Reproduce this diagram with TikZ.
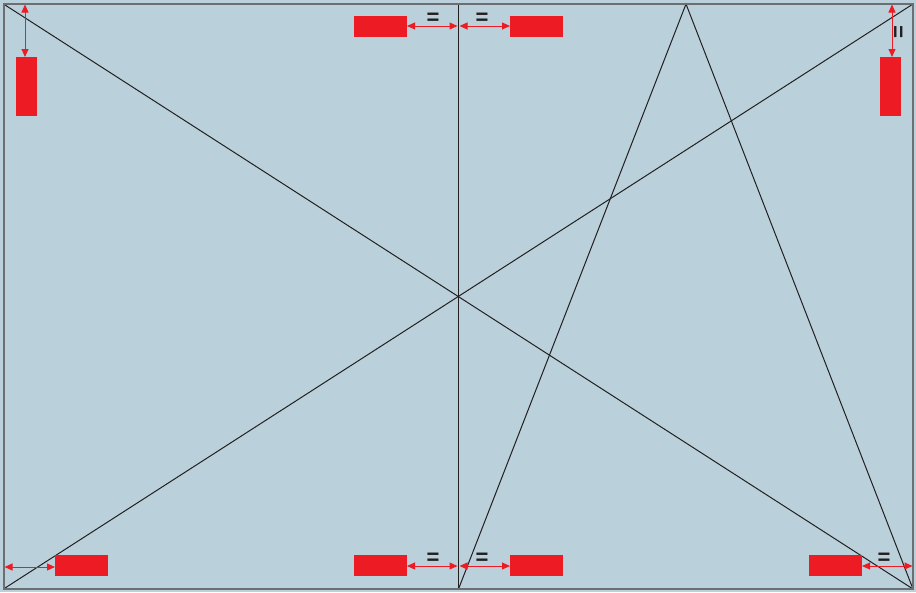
\documentclass[tikz,border=0pt]{standalone}
\usepackage{fontspec}
\setmainfont{Liberation Sans}
\usetikzlibrary{arrows.meta}
\definecolor{bgblue}{HTML}{BAD1DC}
\definecolor{redbox}{HTML}{ED1C24}
\definecolor{frame}{HTML}{6D6E71}
\definecolor{ink}{HTML}{231F20}
\begin{document}
\begin{tikzpicture}[x=1pt,y=-1pt,
  redrect/.style={fill=redbox,draw=none},
  geo/.style={draw=ink,line width=1pt},
  dim/.style={draw=redbox,line width=1pt,{Triangle[length=8pt,width=7pt]}-{Triangle[length=8pt,width=7pt]}},
  eq/.style={text=ink,font=\bfseries\fontsize{22}{22}\selectfont,inner sep=0pt}]
\useasboundingbox (0,0) rectangle (916,592);
\fill[bgblue] (0,0) rectangle (916,592);
% frame corners
\coordinate (TL) at (3.5,4);
\coordinate (TR) at (913,4);
\coordinate (BL) at (3.5,589);
\coordinate (BR) at (913,589);
\coordinate (MT) at (458.5,4);
\coordinate (MB) at (458.5,589);
\coordinate (AP) at (686,4);
% geometry lines
\draw[geo] (TL) -- (BR);
\draw[geo] (BL) -- (TR);
\draw[geo] (MB) -- (AP) -- (BR);
\draw[draw=ink,line width=1.8pt] (MT) -- (MB);
% frame
\draw[frame,line width=2pt] (TL) rectangle (BR);
% red boxes
\path[redrect] (16,57) rectangle (37,116);
\path[redrect] (880,57) rectangle (901,116);
\path[redrect] (354,16) rectangle (407,37);
\path[redrect] (510,16) rectangle (563,37);
\path[redrect] (55,555) rectangle (108,576);
\path[redrect] (354,555) rectangle (407,576);
\path[redrect] (510,555) rectangle (563,576);
\path[redrect] (809,555) rectangle (862,576);
% named anchors for dimension arrows
\coordinate (a1s) at (25,4.5);   \coordinate (a1e) at (25,57);
\coordinate (a2s) at (892,4.5);  \coordinate (a2e) at (892,57);
\coordinate (a3s) at (407,26);   \coordinate (a3e) at (457.5,26);
\coordinate (a4s) at (459.5,26); \coordinate (a4e) at (510,26);
\coordinate (a5s) at (4.5,567);  \coordinate (a5e) at (55,567);
\coordinate (a6s) at (407,566);  \coordinate (a6e) at (457.5,566);
\coordinate (a7s) at (459.5,566);\coordinate (a7e) at (510,566);
\coordinate (a8s) at (862,566);  \coordinate (a8e) at (912.5,566);
\draw[dim] (a1s) -- (a1e);
\draw[dim] (a2s) -- (a2e);
\draw[dim] (a3s) -- (a3e);
\draw[dim] (a4s) -- (a4e);
\draw[dim] (a5s) -- (a5e);
\draw[dim] (a6s) -- (a6e);
\draw[dim] (a7s) -- (a7e);
\draw[dim] (a8s) -- (a8e);
% labels
\node[eq] (l1) at (433,19) {=};
\node[eq] (l2) at (482,19) {=};
\node[eq,rotate=90] (l3) at (900,32) {=};
\node[eq] (l4) at (433,559) {=};
\node[eq] (l5) at (482,559) {=};
\node[eq] (l6) at (884,559) {=};
\end{tikzpicture}
\end{document}
